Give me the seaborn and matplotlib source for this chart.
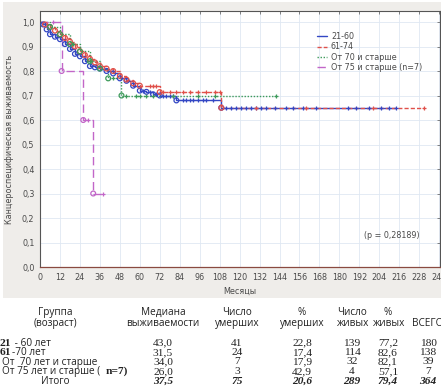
import numpy as np
import seaborn as sns
import matplotlib.pyplot as plt
from matplotlib.patches import Rectangle

# Kaplan-Meier steps (months, survival)
blue_t = [0, 2, 4, 6, 9, 12, 15, 18, 21, 24, 27, 30, 33, 36, 40, 44, 48, 52, 56, 60, 64, 68, 72, 82, 109]
blue_s = [1.0, 0.99, 0.97, 0.95, 0.94, 0.93, 0.91, 0.89, 0.87, 0.86, 0.84, 0.82, 0.815, 0.81, 0.80,
          0.79, 0.77, 0.76, 0.74, 0.72, 0.715, 0.705, 0.70, 0.68, 0.65]
blue_end = 214
blue_cens = [62, 66, 70, 74, 76, 78, 80, 86, 88, 90, 92, 95, 98, 100, 104, 112, 115, 118, 121, 124,
             127, 130, 133, 136, 141, 148, 152, 158, 166, 185, 190, 198, 205, 210, 214]

red_t = [0, 3, 6, 9, 12, 15, 18, 21, 24, 27, 30, 33, 36, 40, 44, 48, 52, 56, 60, 72, 109]
red_s = [1.0, 0.99, 0.98, 0.965, 0.95, 0.935, 0.92, 0.90, 0.88, 0.865, 0.85, 0.835, 0.82, 0.81,
         0.80, 0.78, 0.765, 0.75, 0.74, 0.714, 0.65]
red_end = 231
red_cens = [66, 68, 70, 74, 78, 82, 86, 90, 95, 100, 105, 108, 130, 160, 200, 231]

green_t = [0, 6, 12, 18, 24, 30, 36, 41, 49]
green_s = [1.0, 0.98, 0.95, 0.91, 0.88, 0.84, 0.81, 0.77, 0.70]
green_end = 142
green_cens = [20, 30, 44, 52, 58, 60, 64, 68, 80, 95, 105, 142]

mag_t = [0, 13, 26, 32]
mag_s = [1.0, 0.8, 0.6, 0.3]
mag_end = 38
mag_cens = [8, 29, 38]

groups = ["21-60", "61-74", "От 70 и старше", "От 75 и старше (n=7)"]
p_text = "(p = 0,28189)"

# table
tab_header = [("Группа\n(возраст)", 55), ("Медиана\nвыживаемости", 163), ("Число\nумерших", 237),
              ("%\nумерших", 302), ("Число\nживых", 352), ("%\nживых", 388), ("ВСЕГО", 428)]
row_num = ["21", "61", "", "", ""]
row_text = [" - 60 лет", "-70 лет", "От  70 лет и старше", "От 75 лет и старше (  ", "Итого"]
median = ["43,0", "31,5", "34,0", "26,0", "37,5"]
n_dead = ["41", "24", "7", "3", "75"]
pct_dead = ["22,8", "17,4", "17,9", "42,9", "20,6"]
n_alive = ["139", "114", "32", "4", "289"]
pct_alive = ["77,2", "82,6", "82,1", "57,1", "79,4"]
total = ["180", "138", "39", "7", "364"]

sns.set_theme(style="white")
plt.rcParams['font.family'] = ['DejaVu Sans']

W, H = 441, 392
fig = plt.figure(figsize=(W / 100, H / 100), dpi=100)
fig.patch.set_facecolor('white')
fig.patches.append(Rectangle((3 / W, 1 - 298 / H), 1, (298 - 2) / H, transform=fig.transFigure,
                             facecolor='#efedea', edgecolor='none', zorder=-10))

ax = fig.add_axes([40 / W, 1 - 267 / H, 400 / W, 256 / H])
ax.set_zorder(1)
ax.set_facecolor('white')


def surv_at(t, s, x):
    idx = np.searchsorted(t, x, side='right') - 1
    return np.array(s)[idx]


series = [
    (blue_t, blue_s, blue_end, blue_cens, '#3347c4', '-'),
    (red_t, red_s, red_end, red_cens, '#e0504a', (0, (3, 1.5))),
    (green_t, green_s, green_end, green_cens, '#3d9a5a', (0, (1, 1.2))),
    (mag_t, mag_s, mag_end, mag_cens, '#c266c8', (0, (6, 3))),
]

for (t, s, end, cens, col, ls), name in zip(series, groups):
    xs = list(t) + [end]
    ys = list(s) + [s[-1]]
    sns.lineplot(x=xs, y=ys, ax=ax, color=col, linestyle=ls, linewidth=1.0,
                 drawstyle='steps-post', sort=False, label=name, estimator=None)
    sns.scatterplot(x=t[1:], y=s[1:], ax=ax, marker='o', s=12, facecolor='none',
                    edgecolor=col, linewidth=0.9, zorder=3)
    cy = surv_at(t, s, cens)
    ax.scatter(cens, cy, marker='+', s=12, color=col, linewidth=0.9, zorder=3)

ax.set_xlim(0, 240.5)
ax.set_ylim(0, 1.045)
ax.set_xticks(np.arange(0, 241, 12))
ax.set_xticklabels([str(v) for v in range(0, 241, 12)])
ax.set_yticks(np.arange(0, 1.01, 0.1))
ax.set_yticklabels([f"{v:.1f}".replace('.', ',') for v in np.arange(0, 1.01, 0.1)])
ax.grid(True, color='#dfe8f2', linewidth=0.6)
ax.tick_params(axis='both', labelsize=5.8, labelcolor='#4a4a4a', length=2, width=0.5,
               color='#555555', pad=4, direction='out')
ax.tick_params(top=True, right=True, direction='in', which='both')
for side in ['left', 'top', 'right']:
    ax.spines[side].set_color('#555555')
    ax.spines[side].set_linewidth(0.8)
ax.spines['bottom'].set_color('#8a4a40')
ax.spines['bottom'].set_linewidth(0.9)
ax.set_xlabel("Месяцы", fontsize=5.8, color='#4a4a4a', labelpad=4)
ax.set_ylabel("Канцероспецифическая выживаемость", fontsize=5.8, color='#4a4a4a', labelpad=6)

leg = ax.legend(loc='upper left', bbox_to_anchor=(0.685, 0.93), frameon=False, fontsize=5.8,
                handlelength=1.2, handletextpad=0.5, labelspacing=0.15, borderaxespad=0)
for txt in leg.get_texts():
    txt.set_color('#4a4a4a')

ax.text(0.81, 0.115, p_text, transform=ax.transAxes, fontsize=5.8, color='#4a4a4a')

# table under the chart
sans = ['Open Sans', 'DejaVu Sans']
serif = ['Liberation Serif', 'DejaVu Serif']
tfs = 7.2
nfs = 8.2

for label, xc in tab_header:
    y0 = 318 if '\n' in label else 323
    fig.text(xc / W, 1 - y0 / H, label, ha='center', va='center', fontsize=tfs,
             family=sans, color='#222222', linespacing=1.05)

row_y = [343, 352.5, 362, 371.5, 381]
for i, y in enumerate(row_y):
    yy = 1 - y / H
    italic = i == 4
    style = dict(va='center', color='#222222')
    if i < 2:
        t1 = fig.text(0 / W, yy, row_num[i], ha='left', family=serif, weight='bold',
                      fontsize=nfs, **style)
        fig.canvas.draw()
        bb = t1.get_window_extent()
        fig.text(bb.x1 / W, yy, row_text[i], ha='left', family=sans, fontsize=tfs, **style)
    elif i < 4:
        t1 = fig.text(2 / W, yy, row_text[i], ha='left', family=sans, fontsize=tfs, **style)
        if i == 3:
            fig.canvas.draw()
            bb = t1.get_window_extent()
            fig.text(bb.x1 / W, yy, "n=7)", ha='left', family=serif, weight='bold',
                     fontsize=nfs, **style)
    else:
        fig.text(55 / W, yy, row_text[i], ha='center', family=sans, fontsize=tfs, **style)
    num_kw = dict(family=serif, ha='center', fontsize=nfs, **style)
    if italic:
        num_kw.update(style='italic', weight='bold')
    for xc, col in zip([163, 237, 302, 352, 388, 428],
                       [median, n_dead, pct_dead, n_alive, pct_alive, total]):
        fig.text(xc / W, yy, col[i], **num_kw)

fig.savefig("out.png", dpi=100)
